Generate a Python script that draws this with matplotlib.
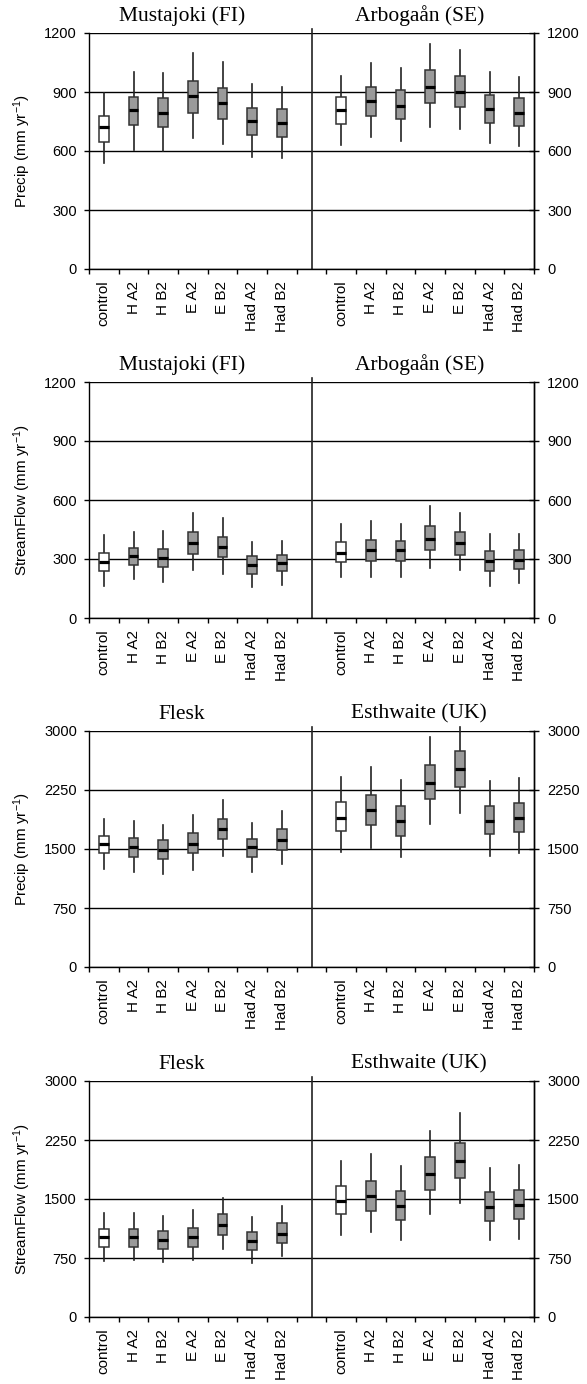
import matplotlib
matplotlib.use("Agg")
import matplotlib.pyplot as plt

plt.rcParams['font.family'] = ['Liberation Sans', 'DejaVu Sans']
plt.rcParams['mathtext.default'] = 'regular'

scenarios = ["control", "H A2", "H B2", "E A2", "E B2", "Had A2", "Had B2"]

# each row: [whisker low, q1, median, q3, whisker high]
mustajoki_precip = [[538, 648, 721, 780, 897], [606, 731, 809, 875, 1004], [601, 721, 795, 867, 995],
                    [665, 795, 878, 958, 1097], [635, 762, 843, 922, 1054], [572, 682, 755, 821, 941],
                    [564, 672, 741, 812, 924]]
arboga_precip = [[630, 736, 809, 875, 982], [670, 779, 856, 927, 1049], [653, 762, 829, 909, 1024],
                 [724, 843, 927, 1010, 1146], [713, 826, 902, 982, 1114], [643, 741, 812, 887, 1002],
                 [623, 726, 795, 868, 975]]
mustajoki_flow = [[164, 237, 284, 333, 423], [198, 267, 313, 357, 436], [183, 260, 306, 350, 443],
                  [245, 325, 379, 436, 536], [225, 308, 360, 414, 510], [159, 225, 272, 314, 387],
                  [169, 237, 279, 319, 394]]
arboga_flow = [[206, 286, 333, 385, 477], [211, 292, 345, 397, 494], [211, 292, 345, 392, 477],
               [254, 346, 402, 470, 571], [245, 319, 379, 439, 536], [164, 238, 289, 340, 429],
               [177, 248, 296, 345, 429]]
flesk_precip = [[1246, 1449, 1564, 1669, 1881], [1203, 1398, 1521, 1636, 1852], [1178, 1369, 1487, 1610, 1809],
                [1233, 1449, 1559, 1699, 1928], [1415, 1627, 1754, 1881, 2119], [1208, 1398, 1521, 1623, 1835],
                [1309, 1487, 1614, 1758, 1983]]
esthwaite_precip = [[1458, 1725, 1898, 2102, 2419], [1517, 1805, 1992, 2191, 2538], [1398, 1669, 1856, 2042, 2373],
                    [1814, 2131, 2335, 2564, 2928], [1962, 2284, 2521, 2746, 3055], [1415, 1686, 1856, 2042, 2360],
                    [1445, 1712, 1898, 2089, 2407]]
flesk_flow = [[713, 895, 1014, 1120, 1324], [730, 895, 1014, 1120, 1324], [704, 866, 984, 1095, 1290],
              [721, 895, 1014, 1137, 1366], [866, 1044, 1171, 1307, 1515], [687, 853, 972, 1078, 1273],
              [777, 942, 1057, 1201, 1409]]
esthwaite_flow = [[1040, 1303, 1472, 1663, 1977], [1078, 1345, 1536, 1735, 2066], [980, 1239, 1413, 1604, 1918],
                  [1303, 1617, 1820, 2037, 2363], [1451, 1761, 1986, 2215, 2588], [980, 1226, 1400, 1583, 1888],
                  [997, 1252, 1430, 1617, 1931]]

yticks_small = [0, 300, 600, 900, 1200]
yticks_large = [0, 750, 1500, 2250, 3000]

panels = [
    ("Mustajoki (FI)", "Arbogaån (SE)", "Precip (mm yr$^{-1}$)", mustajoki_precip, arboga_precip, yticks_small),
    ("Mustajoki (FI)", "Arbogaån (SE)", "StreamFlow (mm yr$^{-1}$)", mustajoki_flow, arboga_flow, yticks_small),
    ("Flesk", "Esthwaite (UK)", "Precip (mm yr$^{-1}$)", flesk_precip, esthwaite_precip, yticks_large),
    ("Flesk", "Esthwaite (UK)", "StreamFlow (mm yr$^{-1}$)", flesk_flow, esthwaite_flow, yticks_large),
]

W, H = 587, 1384
fig = plt.figure(figsize=(W / 100, H / 100), dpi=100)
tops_px = [33, 382, 731, 1081]
ph = 236
left_px, right_px = 89, 534

FS = 10.5
serif = ['Liberation Serif', 'DejaVu Serif']
for (t1, t2, ylab, d1, d2, yt), top in zip(panels, tops_px):
    ax = fig.add_axes([left_px / W, 1 - (top + ph) / H, (right_px - left_px) / W, ph / H])
    ax.set_xlim(0, 15)
    ax.set_ylim(yt[0], yt[-1])
    for y in yt:
        ax.axhline(y, color='black', lw=1.0, zorder=1)
    ax.plot([7.5, 7.5], [0, 1.016], transform=ax.get_xaxis_transform(), color='#222222', lw=1.2,
            clip_on=False, zorder=2)
    positions = list(range(7)) + list(range(8, 15))
    stats = []
    for row in d1 + d2:
        lo, q1, med, q3, hi = row
        stats.append(dict(whislo=lo, q1=q1, med=med, q3=q3, whishi=hi, fliers=[]))
    bp = ax.bxp(stats, positions=[p + 0.5 for p in positions], widths=0.32, showcaps=False,
                showfliers=False, patch_artist=True, manage_ticks=False,
                boxprops=dict(edgecolor='#333333', linewidth=1.1),
                whiskerprops=dict(color='#222222', linewidth=1.2),
                medianprops=dict(color='black', linewidth=2.3, solid_capstyle='butt'))
    for j, b in enumerate(bp['boxes']):
        b.set_facecolor('white' if j % 7 == 0 else '#9a9a9a')
        b.set_zorder(3)
    for w in bp['whiskers']:
        w.set_clip_on(False)
        w.set_zorder(2.5)
    for m in bp['medians']:
        m.set_zorder(4)
    ax.set_xticks(list(range(0, 8)) + list(range(8, 16)))
    ax.set_xticklabels([])
    for p, lab in zip(positions, scenarios + scenarios):
        ax.text(p + 0.5, -0.05, lab, transform=ax.get_xaxis_transform(), rotation=90,
                ha='center', va='top', fontsize=11)
    ax.tick_params(axis='x', direction='out', length=3.6, width=1)
    ax.set_yticks(yt)
    ax.set_yticklabels([str(v) for v in yt], fontsize=FS)
    ax.tick_params(axis='y', direction='out', length=3.6, width=1, left=True, right=False,
                   labelleft=True, labelright=False, pad=5)
    for s in ax.spines.values():
        s.set_linewidth(1.0)
    ax.spines['top'].set_visible(False)

    ax2 = ax.twinx()
    ax2.set_ylim(ax.get_ylim())
    ax2.set_yticks(yt)
    ax2.set_yticklabels([str(v) for v in yt], fontsize=FS)
    ax2.tick_params(axis='y', direction='inout', length=7, width=1, pad=6)
    for s in ax2.spines.values():
        s.set_visible(False)
    ax2.spines['right'].set_visible(True)
    ax2.spines['right'].set_linewidth(1.0)

    ax.set_ylabel(ylab, fontsize=11)
    ax.yaxis.set_label_coords(-0.125, 0.5)
    ax.text(3.5 - 0.37, 1.03, t1, transform=ax.get_xaxis_transform(), ha='center', va='bottom',
            fontsize=15.5, family=serif)
    ax.text(11.5 - 0.37, 1.03, t2, transform=ax.get_xaxis_transform(), ha='center', va='bottom',
            fontsize=15.5, family=serif)

fig.savefig("out.png", dpi=100, facecolor='white')
